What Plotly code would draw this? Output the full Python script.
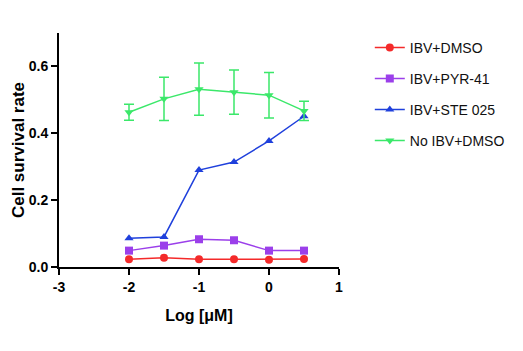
import plotly.graph_objects as go

x_vals = [-2, -1.5, -1, -0.5, 0, 0.5]
ibv_dmso = [0.023, 0.028, 0.023, 0.023, 0.022, 0.024]
ibv_pyr41 = [0.049, 0.064, 0.083, 0.080, 0.049, 0.049]
ibv_ste025 = [0.086, 0.090, 0.290, 0.314, 0.377, 0.451]
no_ibv_dmso = [0.463, 0.503, 0.532, 0.523, 0.514, 0.467]
no_ibv_err = [0.024, 0.065, 0.078, 0.066, 0.068, 0.029]

names = ["IBV+DMSO", "IBV+PYR-41", "IBV+STE 025", "No IBV+DMSO"]
colors = ["#F42A2A", "#9B3FEA", "#1F40DC", "#3BE86A"]
symbols = ["circle", "square", "triangle-up", "triangle-down"]
series = [ibv_dmso, ibv_pyr41, ibv_ste025, no_ibv_dmso]
legend_ids = ["legend", "legend2", "legend3", "legend4"]

FONT = "Liberation Sans, Arial, sans-serif"
fig = go.Figure()
for i, (nm, col, sym, ys) in enumerate(zip(names, colors, symbols, series)):
    err = None
    if i == 3:
        err = dict(type="data", array=no_ibv_err, visible=True, color=col, thickness=1.5, width=5)
    fig.add_trace(go.Scatter(
        x=x_vals, y=ys, name=nm, mode="lines+markers",
        line=dict(color=col, width=1.5),
        marker=dict(symbol=sym, size=8, color=col),
        error_y=err, legend=legend_ids[i],
    ))

legend_y_px = [48, 79, 110, 141]
plot_top, plot_bottom = 33, 267
layout_legends = {}
for lid, ypx in zip(legend_ids, legend_y_px):
    layout_legends[lid] = dict(
        x=1.11, xanchor="left",
        y=(plot_bottom - ypx) / (plot_bottom - plot_top), yanchor="middle",
        font=dict(family=FONT, size=14, color="#111"),
        bgcolor="rgba(0,0,0,0)", borderwidth=0,
    )

fig.update_layout(
    width=523, height=351,
    margin=dict(l=59, r=184, t=33, b=84, autoexpand=False),
    paper_bgcolor="white", plot_bgcolor="white",
    showlegend=True,
    **layout_legends,
)
fig.update_xaxes(
    range=[-3, 1], tickvals=[-3, -2, -1, 0, 1], ticktext=["-3", "-2", "-1", "0", "1"],
    showline=True, linecolor="black", linewidth=2, ticks="outside", ticklen=6, tickwidth=2,
    tickcolor="black", showgrid=False, zeroline=False, automargin=False,
    tickfont=dict(family=FONT, size=14, color="black", weight="bold"),
    title=dict(text="Log [μM]", font=dict(family=FONT, size=16, color="black", weight="bold"), standoff=16),
)
fig.update_yaxes(
    range=[0, 0.7], tickvals=[0, 0.2, 0.4, 0.6], ticktext=["0.0", "0.2", "0.4", "0.6"],
    showline=True, linecolor="black", linewidth=2, ticks="outside", ticklen=6, tickwidth=2,
    tickcolor="black", showgrid=False, zeroline=False, automargin=False,
    tickfont=dict(family=FONT, size=14, color="black", weight="bold"),
    title=dict(text="Cell survival rate", font=dict(family=FONT, size=17, color="black", weight="bold"), standoff=0),
)
fig.write_html("out.html")
